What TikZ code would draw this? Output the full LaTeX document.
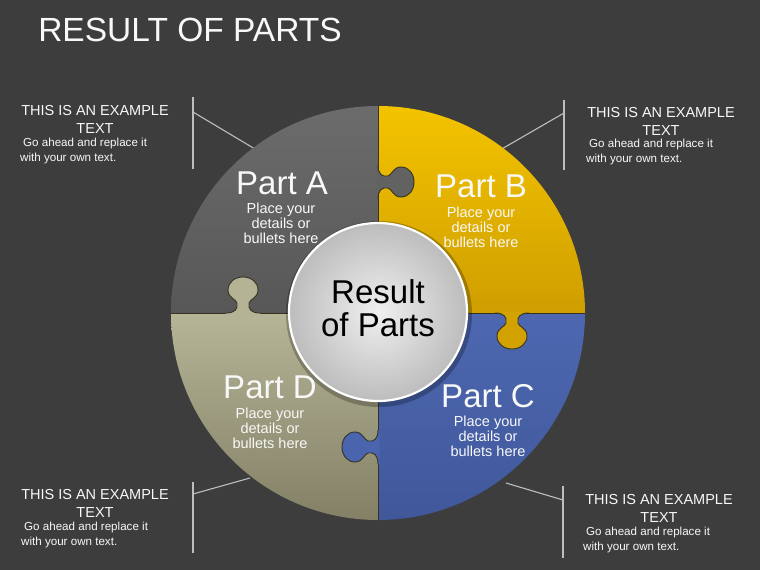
\documentclass[tikz,border=0pt]{standalone}
\usepackage{fontspec}
\setmainfont{Liberation Sans}
\definecolor{bg}{HTML}{3D3D3D}
\definecolor{lineg}{HTML}{BEBEBE}
\definecolor{seam}{HTML}{35331F}
\definecolor{aTop}{HTML}{6C6C6C}
\definecolor{aBot}{HTML}{575757}
\definecolor{aTab}{HTML}{626262}
\definecolor{bTop}{HTML}{F4C400}
\definecolor{bBot}{HTML}{CF9E00}
\definecolor{bTab}{HTML}{D2A200}
\definecolor{cTop}{HTML}{4D68B1}
\definecolor{cBot}{HTML}{40579A}
\definecolor{cTab}{HTML}{4A64AD}
\definecolor{dTop}{HTML}{B6B597}
\definecolor{dBot}{HTML}{827F65}
\definecolor{dTab}{HTML}{B4B395}
\definecolor{txt}{HTML}{F8F8F8}
\tikzset{
  callhead/.style={text=txt, align=center, inner sep=0pt, font=\fontsize{14.5}{18}\selectfont},
  callbody/.style={text=txt, align=left, anchor=west, inner sep=0pt, font=\fontsize{11.6}{15}\selectfont},
  callline/.style={draw=lineg, line width=1.1pt},
  partname/.style={text=txt, inner sep=0pt, font=\fontsize{33}{36}\selectfont},
  partdet/.style={text=txt, align=center, inner sep=0pt, font=\fontsize{14.5}{15}\selectfont},
  seamline/.style={draw=seam, line width=0.9pt},
}
\newcommand{\puzzletab}[4]{%
  \begin{scope}[shift={(#1,#2)},rotate=#3]
    \fill[#4] (-17,-1.5) -- (-17,0) .. controls (-8,0) and (-5,4) .. (-6,10)
      .. controls (-7,14) and (-15,15) .. (-15,23)
      .. controls (-15,31) and (-8,36) .. (0,36)
      .. controls (8,36) and (15,31) .. (15,23)
      .. controls (15,15) and (7,14) .. (6,10)
      .. controls (5,4) and (8,0) .. (17,0) -- (17,-1.5) -- cycle;
    \draw[seamline] (-17,0) .. controls (-8,0) and (-5,4) .. (-6,10)
      .. controls (-7,14) and (-15,15) .. (-15,23)
      .. controls (-15,31) and (-8,36) .. (0,36)
      .. controls (8,36) and (15,31) .. (15,23)
      .. controls (15,15) and (7,14) .. (6,10)
      .. controls (5,4) and (8,0) .. (17,0);
  \end{scope}}
\begin{document}
\begin{tikzpicture}[x=1pt,y=-1pt]
\fill[bg] (0,0) rectangle (760,570);
\useasboundingbox (0,0) rectangle (760,570);

% title
\node[text=txt, inner sep=0pt, font=\fontsize{33.5}{38}\selectfont] (title) at (190,30) {RESULT OF PARTS};

% callout connectors
\coordinate (tlt) at (193,97);  \coordinate (tlb) at (193,169);
\coordinate (tlj) at (193,112); \coordinate (tle) at (260,152);
\coordinate (trt) at (564,100); \coordinate (trb) at (564,170);
\coordinate (trj) at (564,113); \coordinate (tre) at (500,150);
\coordinate (blt) at (193,482); \coordinate (blb) at (193,553);
\coordinate (blj) at (193,494); \coordinate (ble) at (250,478);
\coordinate (brt) at (563,486); \coordinate (brb) at (563,558);
\coordinate (brj) at (563,500); \coordinate (bre) at (506,483);
\draw[callline] (tlt) -- (tlb); \draw[callline] (tlj) -- (tle);
\draw[callline] (trt) -- (trb); \draw[callline] (trj) -- (tre);
\draw[callline] (blt) -- (blb); \draw[callline] (blj) -- (ble);
\draw[callline] (brt) -- (brb); \draw[callline] (brj) -- (bre);

% quadrants
\begin{scope}
  \clip (378,313) circle[radius=207];
  \shade[top color=aTop, bottom color=aBot] (168,103) rectangle (378,313);
  \shade[top color=bTop, bottom color=bBot] (378,103) rectangle (588,313);
  \shade[top color=cTop, bottom color=cBot] (378,313) rectangle (588,523);
  \shade[top color=dTop, bottom color=dBot] (168,313) rectangle (378,523);
\end{scope}
% seams
\draw[seamline] (171,313) -- (585,313);
\draw[seamline] (378,106) -- (378,520);
% tabs
\puzzletab{378}{182}{90}{aTab}
\puzzletab{512}{313}{0}{bTab}
\puzzletab{378}{447}{-90}{cTab}
\puzzletab{243}{313}{180}{dTab}

% centre disc
\fill[black, opacity=0.25] (379,314) circle[radius=93];
\shade[inner color=gray!12, outer color=gray!52] (378,312) circle[radius=89];
\draw[white, line width=2.2pt] (378,312) circle[radius=89];
\node[inner sep=0pt, align=center, text=black, font=\fontsize{33}{33}\selectfont] (result) at (378,308.5) {Result\\of Parts};

% part labels
\node[partname] (pa) at (282,183) {Part A};
\node[partdet] (pad) at (281,223) {Place your\\details or\\bullets here};
\node[partname] (pb) at (481,186) {Part B};
\node[partdet] (pbd) at (481,227) {Place your\\details or\\bullets here};
\node[partname] (pc) at (488,396) {Part C};
\node[partdet] (pcd) at (488,436) {Place your\\details or\\bullets here};
\node[partname] (pd) at (270,387) {Part D};
\node[partdet] (pdd) at (270,428) {Place your\\details or\\bullets here};

% callout texts
\node[callhead] (tlh) at (95,119) {THIS IS AN EXAMPLE\\TEXT};
\node[callbody] (tlx) at (20,150.5) {\hspace{3pt}Go ahead and replace it\\with your own text.};
\node[callhead] (trh) at (661,121) {THIS IS AN EXAMPLE\\TEXT};
\node[callbody] (trx) at (586,152) {\hspace{3pt}Go ahead and replace it\\with your own text.};
\node[callhead] (blh) at (95,503) {THIS IS AN EXAMPLE\\TEXT};
\node[callbody] (blx) at (21,535) {\hspace{3pt}Go ahead and replace it\\with your own text.};
\node[callhead] (brh) at (659,508) {THIS IS AN EXAMPLE\\TEXT};
\node[callbody] (brx) at (583,540) {\hspace{3pt}Go ahead and replace it\\with your own text.};
\end{tikzpicture}
\end{document}
